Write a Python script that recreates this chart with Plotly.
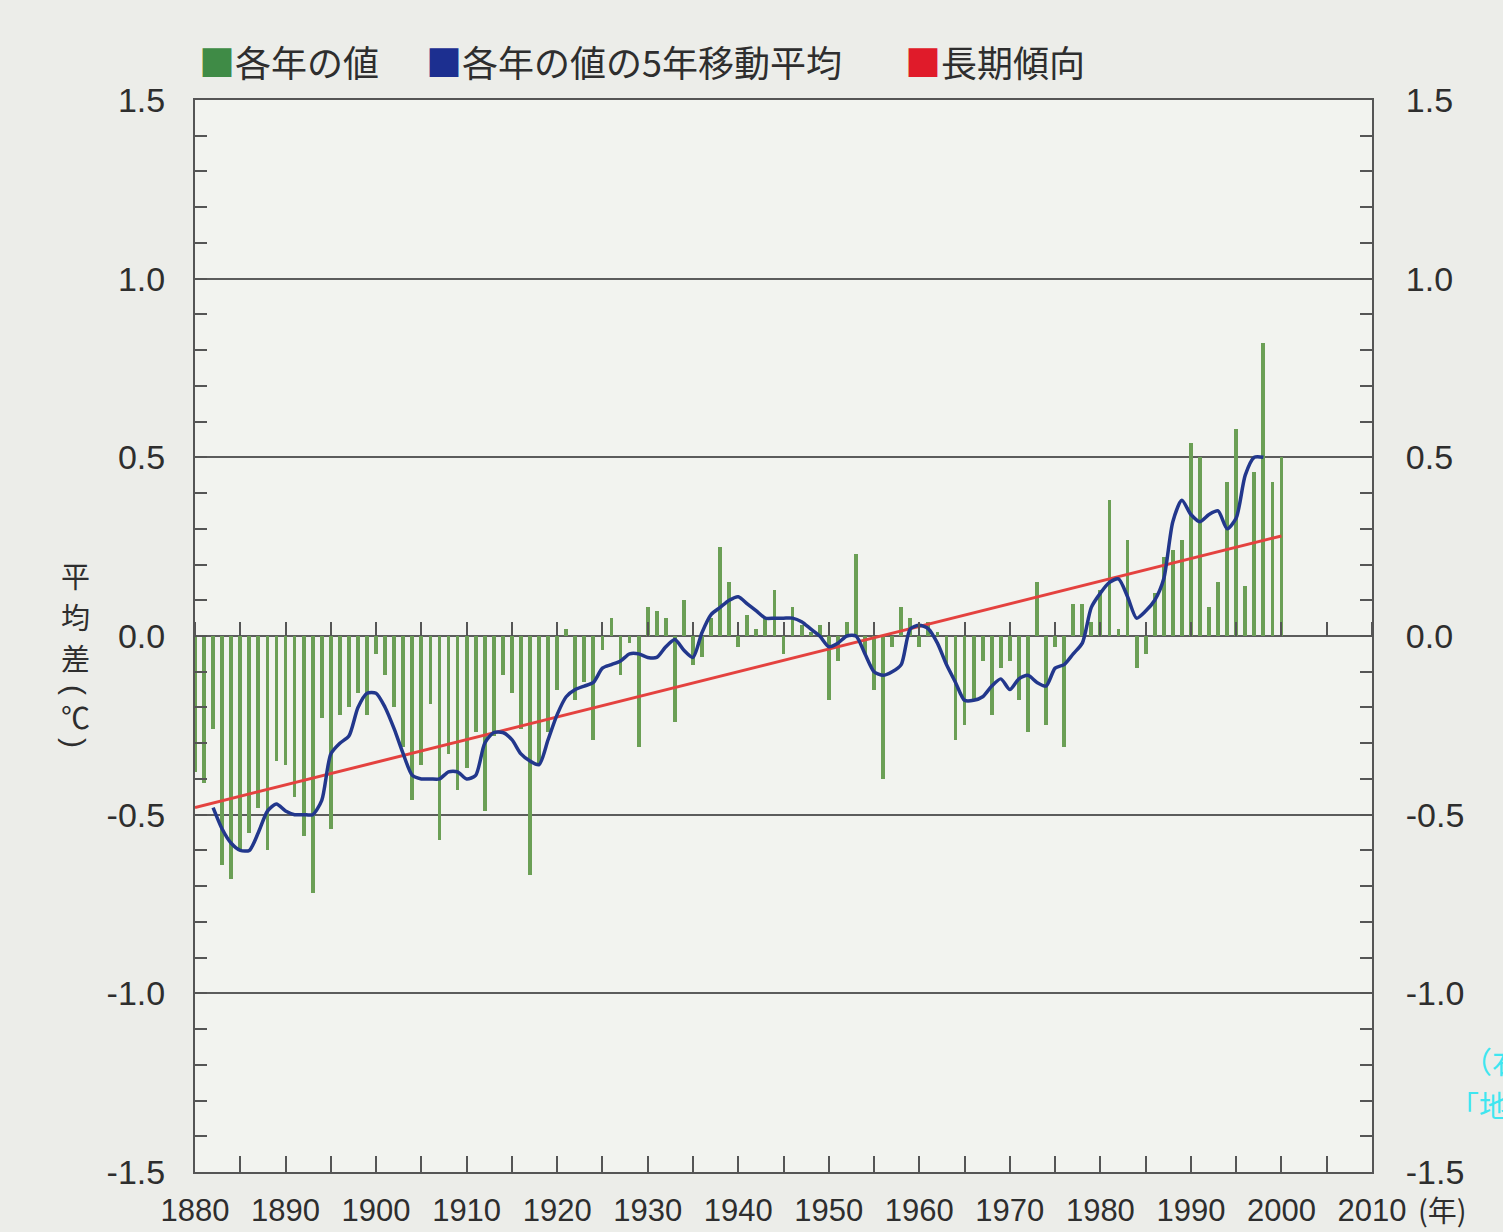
import plotly.graph_objects as go

# ---------------- data ----------------
years = list(range(1880, 2001))
annual = [
    -0.38, -0.41, -0.26, -0.64, -0.68, -0.60, -0.55, -0.48, -0.60, -0.35,   # 1880-1889
    -0.36, -0.45, -0.56, -0.72, -0.23, -0.54, -0.22, -0.20, -0.16, -0.22,   # 1890-1899
    -0.05, -0.11, -0.20, -0.31, -0.46, -0.36, -0.19, -0.57, -0.33, -0.43,   # 1900-1909
    -0.37, -0.27, -0.49, -0.28, -0.11, -0.16, -0.26, -0.67, -0.36, -0.27,   # 1910-1919
    -0.15, 0.02, -0.18, -0.13, -0.29, -0.04, 0.05, -0.11, -0.02, -0.31,     # 1920-1929
    0.08, 0.07, 0.05, -0.24, 0.10, -0.08, -0.06, 0.05, 0.25, 0.15,          # 1930-1939
    -0.03, 0.06, 0.02, 0.05, 0.13, -0.05, 0.08, 0.03, 0.01, 0.03,           # 1940-1949
    -0.18, -0.07, 0.04, 0.23, -0.05, -0.15, -0.40, -0.03, 0.08, 0.05,       # 1950-1959
    -0.03, 0.04, 0.01, -0.08, -0.29, -0.25, -0.18, -0.07, -0.22, -0.09,     # 1960-1969
    -0.07, -0.18, -0.27, 0.15, -0.25, -0.03, -0.31, 0.09, 0.09, 0.04,       # 1970-1979
    0.13, 0.38, 0.02, 0.27, -0.09, -0.05, 0.12, 0.22, 0.24, 0.27,           # 1980-1989
    0.54, 0.50, 0.08, 0.15, 0.43, 0.58, 0.14, 0.46, 0.82, 0.43,             # 1990-1999
    0.50,                                                                   # 2000
]

ma_years = list(range(1882, 1999))
moving_avg = [
    -0.48, -0.54, -0.58, -0.60, -0.60, -0.55, -0.49, -0.47,                 # 1882-1889
    -0.49, -0.50, -0.50, -0.50, -0.46, -0.33, -0.30, -0.28, -0.20, -0.16,   # 1890-1899
    -0.16, -0.20, -0.26, -0.33, -0.39, -0.40, -0.40, -0.40, -0.38, -0.38,   # 1900-1909
    -0.40, -0.39, -0.30, -0.27, -0.27, -0.29, -0.33, -0.35, -0.36, -0.29,   # 1910-1919
    -0.22, -0.17, -0.15, -0.14, -0.13, -0.09, -0.08, -0.07, -0.05, -0.05,   # 1920-1929
    -0.06, -0.06, -0.03, -0.01, -0.04, -0.06, 0.01, 0.06, 0.08, 0.10,       # 1930-1939
    0.11, 0.09, 0.07, 0.05, 0.05, 0.05, 0.05, 0.04, 0.02, 0.00,             # 1940-1949
    -0.03, -0.02, 0.00, 0.00, -0.05, -0.10, -0.11, -0.10, -0.08, 0.02,      # 1950-1959
    0.03, 0.02, -0.02, -0.08, -0.13, -0.18, -0.18, -0.17, -0.14, -0.12,     # 1960-1969
    -0.15, -0.12, -0.11, -0.13, -0.14, -0.09, -0.08, -0.05, -0.02, 0.08,    # 1970-1979
    0.12, 0.15, 0.16, 0.11, 0.05, 0.07, 0.10, 0.16, 0.32, 0.38,             # 1980-1989
    0.34, 0.32, 0.34, 0.35, 0.30, 0.33, 0.45, 0.50, 0.50,                   # 1990-1998
]

trend_years = [1880, 2000]
trend_values = [-0.48, 0.28]

y_tick_vals = [1.5, 1.0, 0.5, 0.0, -0.5, -1.0, -1.5]
y_tick_text = ["1.5", "1.0", "0.5", "0.0", "-0.5", "-1.0", "-1.5"]

legend_labels = ["各年の値", "各年の値の5年移動平均", "長期傾向"]
y_title_chars = ["平", "均", "差"]
y_unit = ["(", "℃", ")"]
x_unit = "(年)"
side_note = ["（右", "「地"]

# ---------------- styles ----------------
BAR_GREEN = "#6b9f55"
LINE_BLUE = "#22378c"
LINE_RED = "#e4423f"
LEG_GREEN = "#3f8b46"
LEG_BLUE = "#1c2f90"
LEG_RED = "#e01b2a"
AXIS = "#555555"
TEXT = "#2e2e2e"
NUM_FONT = "Liberation Sans, Arial, sans-serif"
JP_FONT = "Noto Sans CJK JP, Noto Sans CJK SC, sans-serif"

fig = go.Figure()

fig.add_trace(go.Bar(
    x=years, y=annual, width=0.42,
    marker=dict(color=BAR_GREEN, line=dict(width=0)),
    showlegend=False, name=legend_labels[0],
))
fig.add_trace(go.Scatter(
    x=trend_years, y=trend_values, mode="lines",
    line=dict(color=LINE_RED, width=3),
    xaxis="x2", yaxis="y2", showlegend=False, name=legend_labels[2],
))
fig.add_trace(go.Scatter(
    x=ma_years, y=moving_avg, mode="lines",
    line=dict(color=LINE_BLUE, width=3.5, shape="spline", smoothing=0.7),
    xaxis="x2", yaxis="y2", showlegend=False, name=legend_labels[1],
))

W, H = 1503, 1232
L, R, T, B = 195, 131, 100, 60
PW = W - L - R
PH = H - T - B


def px(xp):
    return (xp - L) / PW


def py(yp):
    return (H - B - yp) / PH


def yaxis_common(standoff):
    return dict(
        range=[-1.5, 1.5],
        tickmode="array", tickvals=y_tick_vals, ticktext=y_tick_text,
        ticks="inside", ticklen=12, tickwidth=1.5, tickcolor=AXIS,
        minor=dict(tickmode="linear", tick0=0, dtick=0.1, ticks="inside",
                   ticklen=12, tickwidth=1.5, tickcolor=AXIS, showgrid=False),
        showline=True, linecolor=AXIS, linewidth=2,
        zeroline=False, automargin=False,
        tickfont=dict(family=NUM_FONT, size=34, color=TEXT),
        ticklabelstandoff=standoff,
        fixedrange=True,
    )


fig.update_layout(
    width=W, height=H,
    margin=dict(l=L, r=R, t=T, b=B, pad=0, autoexpand=False),
    paper_bgcolor="#ecede9",
    plot_bgcolor="#f2f3ef",
    bargap=0,
    xaxis=dict(
        range=[1880, 2010],
        tickmode="linear", tick0=1880, dtick=10,
        ticks="inside", ticklen=16, tickwidth=1.5, tickcolor=AXIS,
        minor=dict(tickmode="linear", tick0=1880, dtick=5, ticks="inside",
                   ticklen=16, tickwidth=1.5, tickcolor=AXIS, showgrid=False),
        showline=True, linecolor=AXIS, linewidth=2, mirror=True,
        showgrid=False, zeroline=False, automargin=False,
        tickfont=dict(family=NUM_FONT, size=31, color=TEXT),
        ticklabelstandoff=10,
        fixedrange=True,
    ),
    xaxis2=dict(
        range=[1880, 2010], overlaying="x", anchor="free", position=0.5,
        side="top", tickmode="linear", tick0=1880, dtick=5,
        ticks="outside", ticklen=14, tickwidth=1.5, tickcolor=AXIS,
        showticklabels=False, showline=False, showgrid=False, zeroline=False,
        automargin=False, fixedrange=True,
    ),
    yaxis=dict(
        **yaxis_common(21),
        showgrid=True, gridcolor="#5c5c5c", gridwidth=1.6,
    ),
    yaxis2=dict(
        **yaxis_common(25),
        overlaying="y", side="right", anchor="x", showgrid=False,
    ),
)

# legend (coloured squares + labels) above the plot
leg_y = py(61)
for xl, col, lab in [(197, LEG_GREEN, legend_labels[0]),
                     (424, LEG_BLUE, legend_labels[1]),
                     (903, LEG_RED, legend_labels[2])]:
    fig.add_annotation(
        xref="paper", yref="paper", x=px(xl), y=leg_y,
        xanchor="left", yanchor="middle", showarrow=False,
        text=f"<span style='color:{col}'>■</span>{lab}",
        font=dict(family=JP_FONT, size=36, color=TEXT),
    )

# vertical y-axis title: stacked upright characters
for ch, yc in zip(y_title_chars, [575, 616, 657]):
    fig.add_annotation(
        xref="paper", yref="paper", x=px(75), y=py(yc),
        xanchor="center", yanchor="middle", showarrow=False,
        text=ch, font=dict(family=JP_FONT, size=29, color=TEXT),
    )
for ch, yc, ang, size in zip(y_unit, [690, 716, 743], [90, 0, 90], [30, 29, 30]):
    fig.add_annotation(
        xref="paper", yref="paper", x=px(75), y=py(yc),
        xanchor="center", yanchor="middle", showarrow=False, textangle=ang,
        text=ch, font=dict(family=NUM_FONT if ang else JP_FONT, size=size, color=TEXT),
    )

# x unit
fig.add_annotation(
    xref="paper", yref="paper", x=px(1416), y=py(1209),
    xanchor="left", yanchor="middle", showarrow=False,
    text=x_unit,
    font=dict(family=JP_FONT, size=29, color=TEXT),
)

# cut-off cyan side note at right edge
fig.add_annotation(
    xref="paper", yref="paper", x=px(1460), y=py(1060),
    xanchor="left", yanchor="middle", showarrow=False,
    text=side_note[0], font=dict(family=JP_FONT, size=30, color="#3fe6f0"),
)
fig.add_annotation(
    xref="paper", yref="paper", x=px(1447), y=py(1104),
    xanchor="left", yanchor="middle", showarrow=False,
    text=side_note[1], font=dict(family=JP_FONT, size=30, color="#3fe6f0"),
)

fig.write_html(
    "out.html",
    config={"displayModeBar": False},
    post_script="document.body.style.margin='0px';"
                "document.body.style.background='#ecede9';",
)
